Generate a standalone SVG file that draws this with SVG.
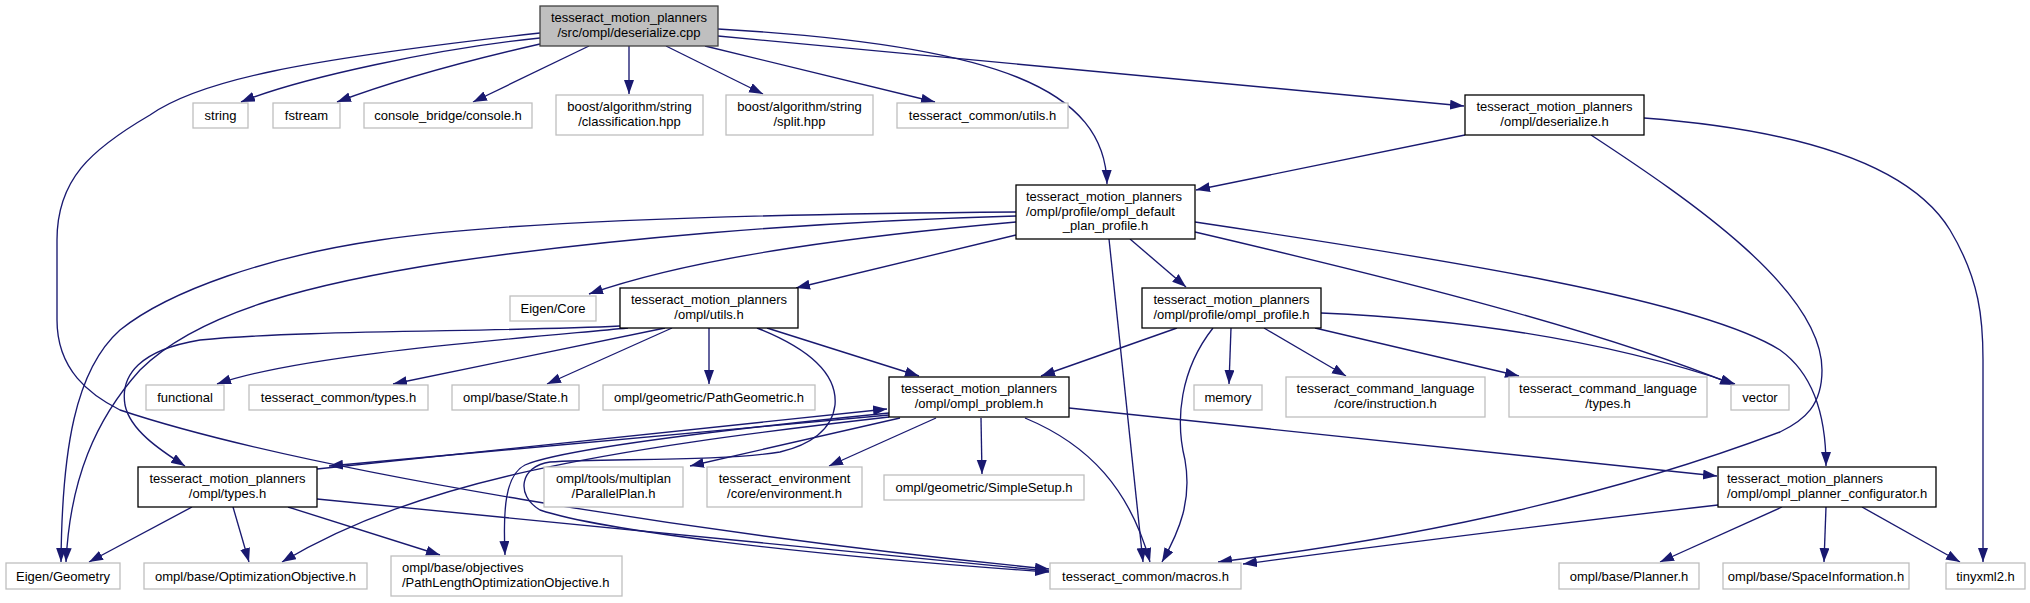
<svg xmlns="http://www.w3.org/2000/svg" width="2030" height="603" viewBox="0 0 2030 603">
<style>
rect{stroke-width:1.3}
.n rect{fill:#fff;stroke:#000}
.x rect{fill:#fff;stroke:#bfbfbf}
.r rect{fill:#bfbfbf;stroke:#404040}
text{font-family:"Liberation Sans",Arial,sans-serif;font-size:13px;fill:#000;text-anchor:middle}
text.l{text-anchor:start}
#edges path{fill:none;stroke:#191970;stroke-width:1.35;marker-end:url(#a)}
</style>
<defs>
<marker id="a" markerUnits="userSpaceOnUse" markerWidth="15" markerHeight="11" refX="14" refY="5" orient="auto"><path d="M0,0 L14,5 L0,10 z" fill="#191970"/></marker>
</defs>
<rect width="2030" height="603" fill="#fff"/>
<g id="edges">
<path d="M540,38 C440,48 300,78 241,102"/>
<path d="M540,44 C470,60 390,82 337,102"/>
<path d="M589,46 L473,102"/>
<path d="M629,46 L629,94"/>
<path d="M666,46 L763,94"/>
<path d="M705,46 L935,102"/>
<path d="M718,29 C1000,45 1105,90 1107,184"/>
<path d="M718,36 L1464,106"/>
<path d="M540,33 C300,60 200,80 150,115 C90,150 57,180 57,240 L57,320 C57,370 90,395 120,410 C300,470 700,535 1049,569"/>
<path d="M1465,135 L1196,190"/>
<path d="M1591,135 C1690,200 1822,290 1822,370 C1822,405 1805,420 1780,432 C1600,500 1400,540 1218,562"/>
<path d="M1644,118 C1800,130 1910,165 1950,230 C1980,280 1983,320 1983,360 L1983,562"/>
<path d="M1016,222 C870,235 700,255 589,294"/>
<path d="M1016,235 L796,288"/>
<path d="M1016,212 C750,214 500,222 380,240 C270,256 170,290 120,330 C75,370 62,450 61,562"/>
<path d="M1016,216 C800,222 600,240 450,262 C320,282 200,310 140,370 C95,420 70,480 66,562"/>
<path d="M1109,239 L1143,562"/>
<path d="M1130,239 L1186,287"/>
<path d="M1195,232 C1400,280 1600,330 1734,385"/>
<path d="M1195,222 C1450,260 1700,300 1780,350 C1815,375 1826,420 1826,466"/>
<path d="M620,326 C500,332 300,330 200,340 C140,350 120,375 125,405 C130,430 160,450 185,466"/>
<path d="M628,328 C500,340 300,355 217,384"/>
<path d="M665,328 L393,384"/>
<path d="M672,328 L547,384"/>
<path d="M709,328 L709,384"/>
<path d="M767,328 L919,376"/>
<path d="M757,328 C800,345 838,370 835,405 C832,430 810,445 780,452 C720,462 600,458 550,462 C520,466 515,495 540,510 C600,530 800,555 1049,572"/>
<path d="M1177,328 L1041,376"/>
<path d="M1213,328 C1180,370 1175,420 1185,460 C1192,500 1180,530 1162,562"/>
<path d="M1231,328 L1229,384"/>
<path d="M1264,328 L1346,376"/>
<path d="M1315,328 L1519,376"/>
<path d="M1321,313 C1480,320 1620,345 1735,384"/>
<path d="M317,469 L887,409"/>
<path d="M889,415 L329,466"/>
<path d="M889,417 C600,450 420,480 282,562"/>
<path d="M889,413 C720,430 560,450 525,465 C505,475 503,510 505,555"/>
<path d="M900,418 L690,466"/>
<path d="M936,418 L829,466"/>
<path d="M981,418 L982,474"/>
<path d="M1025,418 C1090,445 1130,490 1150,562"/>
<path d="M1069,408 L1717,476"/>
<path d="M192,507 L89,562"/>
<path d="M233,507 L249,562"/>
<path d="M288,507 L440,555"/>
<path d="M317,499 C550,522 800,547 1049,571"/>
<path d="M1782,507 L1660,562"/>
<path d="M1826,507 L1824,562"/>
<path d="M1862,507 L1960,562"/>
<path d="M1718,505 C1500,530 1350,550 1243,564"/>
</g>
<g id="n_cpp" class="r"><rect x="540" y="6" width="178" height="40"/><text x="629" y="22">tesseract_motion_planners</text><text x="629" y="37">/src/ompl/deserialize.cpp</text></g>
<g id="n_string" class="x"><rect x="193" y="103" width="55" height="25"/><text x="220.5" y="120">string</text></g>
<g id="n_fstream" class="x"><rect x="273" y="103" width="67" height="25"/><text x="306.5" y="120">fstream</text></g>
<g id="n_console" class="x"><rect x="364" y="103" width="168" height="25"/><text x="448" y="120">console_bridge/console.h</text></g>
<g id="n_classification" class="x"><rect x="556" y="95" width="147" height="40"/><text x="629.5" y="111">boost/algorithm/string</text><text x="629.5" y="126">/classification.hpp</text></g>
<g id="n_split" class="x"><rect x="726" y="95" width="147" height="40"/><text x="799.5" y="111">boost/algorithm/string</text><text x="799.5" y="126">/split.hpp</text></g>
<g id="n_common_utils" class="x"><rect x="897" y="103" width="171" height="25"/><text x="982.5" y="120">tesseract_common/utils.h</text></g>
<g id="n_deserialize_h" class="n"><rect x="1465" y="95" width="179" height="40"/><text x="1554.5" y="111">tesseract_motion_planners</text><text x="1554.5" y="126">/ompl/deserialize.h</text></g>
<g id="n_default_plan_profile" class="n"><rect x="1016" y="185" width="179" height="54"/><text class="l" x="1026" y="201">tesseract_motion_planners</text><text class="l" x="1026" y="215.5">/ompl/profile/ompl_default</text><text x="1105.5" y="230">_plan_profile.h</text></g>
<g id="n_eigen_core" class="x"><rect x="510" y="296" width="86" height="25"/><text x="553" y="313">Eigen/Core</text></g>
<g id="n_ompl_utils" class="n"><rect x="620" y="288" width="178" height="40"/><text x="709" y="304">tesseract_motion_planners</text><text x="709" y="319">/ompl/utils.h</text></g>
<g id="n_ompl_profile" class="n"><rect x="1142" y="288" width="179" height="40"/><text x="1231.5" y="304">tesseract_motion_planners</text><text x="1231.5" y="319">/ompl/profile/ompl_profile.h</text></g>
<g id="n_functional" class="x"><rect x="146" y="385" width="78" height="25"/><text x="185" y="402">functional</text></g>
<g id="n_common_types" class="x"><rect x="249" y="385" width="179" height="25"/><text x="338.5" y="402">tesseract_common/types.h</text></g>
<g id="n_state" class="x"><rect x="452" y="385" width="127" height="25"/><text x="515.5" y="402">ompl/base/State.h</text></g>
<g id="n_pathgeometric" class="x"><rect x="603" y="385" width="212" height="25"/><text x="709" y="402">ompl/geometric/PathGeometric.h</text></g>
<g id="n_ompl_problem" class="n"><rect x="889" y="377" width="180" height="40"/><text x="979" y="393">tesseract_motion_planners</text><text x="979" y="408">/ompl/ompl_problem.h</text></g>
<g id="n_memory" class="x"><rect x="1194" y="385" width="68" height="25"/><text x="1228" y="402">memory</text></g>
<g id="n_instruction" class="x"><rect x="1286" y="377" width="199" height="40"/><text x="1385.5" y="393">tesseract_command_language</text><text x="1385.5" y="408">/core/instruction.h</text></g>
<g id="n_cl_types" class="x"><rect x="1509" y="377" width="198" height="40"/><text x="1608" y="393">tesseract_command_language</text><text x="1608" y="408">/types.h</text></g>
<g id="n_vector" class="x"><rect x="1731" y="385" width="58" height="25"/><text x="1760" y="402">vector</text></g>
<g id="n_ompl_types" class="n"><rect x="138" y="467" width="179" height="40"/><text x="227.5" y="483">tesseract_motion_planners</text><text x="227.5" y="498">/ompl/types.h</text></g>
<g id="n_parallelplan" class="x"><rect x="544" y="467" width="139" height="40"/><text x="613.5" y="483">ompl/tools/multiplan</text><text x="613.5" y="498">/ParallelPlan.h</text></g>
<g id="n_environment" class="x"><rect x="707" y="467" width="155" height="40"/><text x="784.5" y="483">tesseract_environment</text><text x="784.5" y="498">/core/environment.h</text></g>
<g id="n_simplesetup" class="x"><rect x="884" y="475" width="200" height="25"/><text x="984" y="492">ompl/geometric/SimpleSetup.h</text></g>
<g id="n_planner_configurator" class="n"><rect x="1718" y="467" width="218" height="40"/><text class="l" x="1727" y="483">tesseract_motion_planners</text><text class="l" x="1727" y="498">/ompl/ompl_planner_configurator.h</text></g>
<g id="n_eigen_geometry" class="x"><rect x="6" y="563" width="114" height="26"/><text x="63" y="581">Eigen/Geometry</text></g>
<g id="n_optimization" class="x"><rect x="144" y="563" width="223" height="26"/><text x="255.5" y="581">ompl/base/OptimizationObjective.h</text></g>
<g id="n_pathlength" class="x"><rect x="391" y="556" width="231" height="40"/><text class="l" x="402" y="572">ompl/base/objectives</text><text class="l" x="402" y="587">/PathLengthOptimizationObjective.h</text></g>
<g id="n_macros" class="x"><rect x="1050" y="563" width="191" height="26"/><text x="1145.5" y="581">tesseract_common/macros.h</text></g>
<g id="n_planner" class="x"><rect x="1559" y="563" width="140" height="26"/><text x="1629" y="581">ompl/base/Planner.h</text></g>
<g id="n_spaceinfo" class="x"><rect x="1723" y="563" width="186" height="26"/><text x="1816" y="581">ompl/base/SpaceInformation.h</text></g>
<g id="n_tinyxml2" class="x"><rect x="1946" y="563" width="79" height="26"/><text x="1985.5" y="581">tinyxml2.h</text></g>
</svg>
